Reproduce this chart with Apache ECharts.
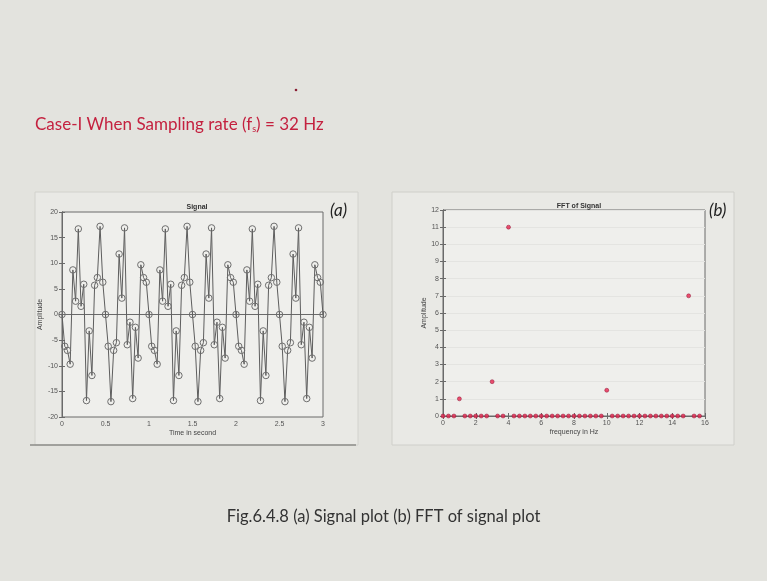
<!DOCTYPE html>
<html>
<head>
<meta charset="utf-8">
<script src="https://cdn.jsdelivr.net/npm/echarts@6/dist/echarts.min.js"></script>
<style>
html,body{margin:0;padding:0;background:#e3e3de;}
#c{width:767px;height:581px;}
</style>
</head>
<body>
<div id="c"></div>
<script>
// ---- Data ----
var timeSec = [
  0, 0.03125, 0.0625, 0.09375, 0.125, 0.15625, 0.1875, 0.21875, 0.25, 0.28125, 0.3125, 0.34375, 0.375, 0.40625, 0.4375, 0.46875,
  0.5, 0.53125, 0.5625, 0.59375, 0.625, 0.65625, 0.6875, 0.71875, 0.75, 0.78125, 0.8125, 0.84375, 0.875, 0.90625, 0.9375, 0.96875,
  1, 1.03125, 1.0625, 1.09375, 1.125, 1.15625, 1.1875, 1.21875, 1.25, 1.28125, 1.3125, 1.34375, 1.375, 1.40625, 1.4375, 1.46875,
  1.5, 1.53125, 1.5625, 1.59375, 1.625, 1.65625, 1.6875, 1.71875, 1.75, 1.78125, 1.8125, 1.84375, 1.875, 1.90625, 1.9375, 1.96875,
  2, 2.03125, 2.0625, 2.09375, 2.125, 2.15625, 2.1875, 2.21875, 2.25, 2.28125, 2.3125, 2.34375, 2.375, 2.40625, 2.4375, 2.46875,
  2.5, 2.53125, 2.5625, 2.59375, 2.625, 2.65625, 2.6875, 2.71875, 2.75, 2.78125, 2.8125, 2.84375, 2.875, 2.90625, 2.9375, 2.96875,
  3
];
var signalAmp = [
  0, -6.2, -7.0, -9.7, 8.7, 2.6, 16.7, 1.6, 5.9, -16.8, -3.2, -11.9, 5.7, 7.2, 17.2, 6.3,
  0, -6.2, -17.0, -7.0, -5.5, 11.8, 3.2, 16.9, -5.9, -1.5, -16.4, -2.5, -8.5, 9.7, 7.2, 6.3,
  0, -6.2, -7.0, -9.7, 8.7, 2.6, 16.7, 1.6, 5.9, -16.8, -3.2, -11.9, 5.7, 7.2, 17.2, 6.3,
  0, -6.2, -17.0, -7.0, -5.5, 11.8, 3.2, 16.9, -5.9, -1.5, -16.4, -2.5, -8.5, 9.7, 7.2, 6.3,
  0, -6.2, -7.0, -9.7, 8.7, 2.6, 16.7, 1.6, 5.9, -16.8, -3.2, -11.9, 5.7, 7.2, 17.2, 6.3,
  0, -6.2, -17.0, -7.0, -5.5, 11.8, 3.2, 16.9, -5.9, -1.5, -16.4, -2.5, -8.5, 9.7, 7.2, 6.3,
  0
];
var freqHz = [
  0, 0.333, 0.667, 1, 1.333, 1.667, 2, 2.333, 2.667, 3, 3.333, 3.667,
  4, 4.333, 4.667, 5, 5.333, 5.667, 6, 6.333, 6.667, 7, 7.333, 7.667,
  8, 8.333, 8.667, 9, 9.333, 9.667, 10, 10.333, 10.667, 11, 11.333, 11.667,
  12, 12.333, 12.667, 13, 13.333, 13.667, 14, 14.333, 14.667, 15, 15.333, 15.667
];
var fftAmp = [
  0, 0, 0, 1, 0, 0, 0, 0, 0, 2, 0, 0,
  11, 0, 0, 0, 0, 0, 0, 0, 0, 0, 0, 0,
  0, 0, 0, 0, 0, 0, 1.5, 0, 0, 0, 0, 0,
  0, 0, 0, 0, 0, 0, 0, 0, 0, 7, 0, 0
];
var caption = 'Fig.6.4.8 (a) Signal plot (b) FFT of signal plot';

// ---- Chart ----
var chart = echarts.init(document.getElementById('c'), null, {renderer: 'canvas'});
var sigData = timeSec.map(function (t, i) { return [t, signalAmp[i]]; });
var fftData = freqHz.map(function (f, i) { return [f, fftAmp[i]]; });

var tickFont = {fontSize: 7, color: '#555', fontFamily: 'Liberation Sans', margin: 4};
var axLine = {lineStyle: {color: '#6a6a6a', width: 1}};
var inTick = {show: true, inside: true, length: 3, lineStyle: {color: '#6a6a6a'}};

chart.setOption({
  backgroundColor: '#e3e3de',
  animation: false,
  graphic: [
    {type: 'rect', z: -10, shape: {x: 35, y: 192, width: 323, height: 253}, style: {fill: '#e9e9e5', stroke: '#d2d2cd', lineWidth: 1}},
    {type: 'line', z: -9, shape: {x1: 30, y1: 445, x2: 356, y2: 445}, style: {stroke: '#8c8c88', lineWidth: 1.5}},
    {type: 'rect', z: -10, shape: {x: 392, y: 192, width: 342, height: 253}, style: {fill: '#e9e9e5', stroke: '#cfcfca', lineWidth: 1}},
    {type: 'circle', shape: {cx: 296, cy: 90, r: 1.3}, style: {fill: '#8a2035'}},
    {type: 'text', left: 35, top: 116, style: {
      text: '{m|Case-I When Sampling rate (f}{s|s}{m|) = 32 Hz}',
      rich: {
        m: {fontFamily: 'Lato', fontSize: 17, fill: '#c4213f'},
        s: {fontFamily: 'Lato', fontSize: 9, fill: '#c4213f', padding: [9, 0, 0, 0]}
      }
    }},
    {type: 'text', left: 330, top: 202, style: {text: '(a)', font: 'italic 17px Lato', fill: '#222'}},
    {type: 'text', left: 709, top: 202, style: {text: '(b)', font: 'italic 17px Lato', fill: '#222'}},
    {type: 'text', left: 'center', top: 508, style: {text: caption, font: '16.5px Lato', fill: '#333'}}
  ],
  title: [
    {text: 'Signal', left: 192, top: 199, textAlign: 'center', textStyle: {fontSize: 7, fontWeight: 'bold', color: '#333', fontFamily: 'Liberation Sans'}},
    {text: 'FFT of Signal', left: 574, top: 198, textAlign: 'center', textStyle: {fontSize: 7, fontWeight: 'bold', color: '#333', fontFamily: 'Liberation Sans'}}
  ],
  grid: [
    {left: 62, right: 444, top: 212, bottom: 164, show: true, backgroundColor: '#efefec', borderColor: '#6a6a6a', borderWidth: 1},
    {left: 443, right: 62, top: 210, bottom: 165, show: true, backgroundColor: '#efefec', borderColor: '#6a6a6a', borderWidth: 1}
  ],
  xAxis: [
    {gridIndex: 0, type: 'value', min: 0, max: 3, interval: 0.5, axisLine: axLine, axisTick: inTick, axisLabel: tickFont, splitLine: {show: false},
     name: 'Time in second', nameLocation: 'middle', nameGap: 13, nameTextStyle: {fontSize: 7, color: '#444', fontFamily: 'Liberation Sans'}},
    {gridIndex: 0, type: 'value', position: 'top', min: 0, max: 3, interval: 0.5, axisLine: axLine, axisTick: inTick, axisLabel: {show: false}, splitLine: {show: false}},
    {gridIndex: 1, type: 'value', min: 0, max: 16, interval: 2, axisLine: axLine, axisTick: inTick, axisLabel: tickFont, splitLine: {show: false},
     name: 'frequency in Hz', nameLocation: 'middle', nameGap: 13, nameTextStyle: {fontSize: 7, color: '#444', fontFamily: 'Liberation Sans'}},
    {gridIndex: 1, type: 'value', position: 'top', min: 0, max: 16, interval: 2, axisLine: axLine, axisTick: inTick, axisLabel: {show: false}, splitLine: {show: false}}
  ],
  yAxis: [
    {gridIndex: 0, type: 'value', min: -20, max: 20, interval: 5, axisLine: axLine, axisTick: inTick, axisLabel: tickFont, splitLine: {show: false},
     name: 'Amplitude', nameLocation: 'middle', nameGap: 17, nameTextStyle: {fontSize: 7, color: '#444', fontFamily: 'Liberation Sans'}},
    {gridIndex: 0, type: 'value', position: 'right', min: -20, max: 20, interval: 5, axisLine: axLine, axisTick: inTick, axisLabel: {show: false}, splitLine: {show: false}},
    {gridIndex: 1, type: 'value', min: 0, max: 12, interval: 1, axisLine: axLine, axisTick: inTick, axisLabel: tickFont,
     splitLine: {show: true, lineStyle: {color: '#e4e4e1', width: 1}},
     name: 'Amplitude', nameLocation: 'middle', nameGap: 14, nameTextStyle: {fontSize: 7, color: '#444', fontFamily: 'Liberation Sans'}},
    {gridIndex: 1, type: 'value', position: 'right', min: 0, max: 12, interval: 1, axisLine: axLine, axisTick: inTick, axisLabel: {show: false}, splitLine: {show: false}}
  ],
  series: [
    {type: 'line', xAxisIndex: 0, yAxisIndex: 0, data: sigData, symbol: 'circle', symbolSize: 6.5, showSymbol: true,
     lineStyle: {color: '#5e5e5e', width: 1}, itemStyle: {color: 'rgba(0,0,0,0)', borderColor: '#6e6e6e', borderWidth: 1}},
    {type: 'scatter', xAxisIndex: 2, yAxisIndex: 2, data: fftData, symbol: 'circle', symbolSize: 4,
     itemStyle: {color: '#e8254f', borderColor: '#8a1030', borderWidth: 0.6}}
  ]
});
</script>
</body>
</html>
